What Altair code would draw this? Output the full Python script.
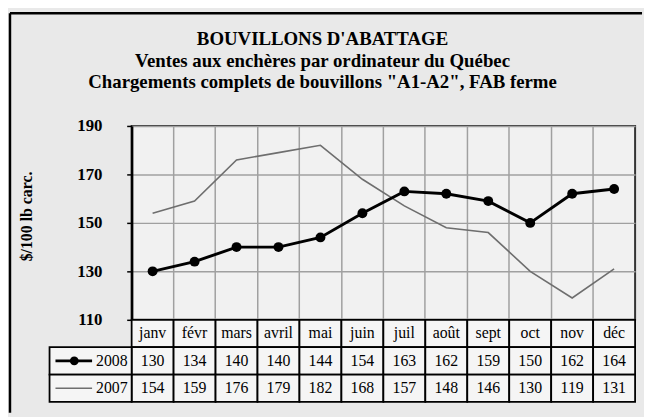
import altair as alt
import pandas as pd

months = ["janv", "févr", "mars", "avril", "mai", "juin", "juil", "août", "sept", "oct", "nov", "déc"]
v2008 = [130, 134, 140, 140, 144, 154, 163, 162, 159, 150, 162, 164]
v2007 = [154, 159, 176, 179, 182, 168, 157, 148, 146, 130, 119, 131]
years = ["2008", "2007"]
y_ticks = [110, 130, 150, 170, 190]
title_lines = [
    "BOUVILLONS D'ABATTAGE",
    "Ventes aux enchères par ordinateur du Québec",
    'Chargements complets de bouvillons "A1-A2", FAB ferme',
]
y_title = "$/100 lb carc."

W, H = 509, 196
TABLE_H = 83
rows = ["mois"] + years
SERIF = "Liberation Serif"

lines_df = pd.DataFrame({
    "mois": months * 2,
    "valeur": v2008 + v2007,
    "annee": ["2008"] * 12 + ["2007"] * 12,
})
table_df = pd.DataFrame({
    "mois": months * 3,
    "row": ["mois"] * 12 + ["2008"] * 12 + ["2007"] * 12,
    "txt": months + [str(v) for v in v2008] + [str(v) for v in v2007],
})
legend_df = pd.DataFrame({"row": years, "txt": years})
one_df = pd.DataFrame({"k": [0]})

xscale = alt.Scale(type="band", domain=months, paddingInner=0, paddingOuter=0)
rowscale = alt.Scale(type="band", domain=rows, range=[H, H + TABLE_H], paddingInner=0, paddingOuter=0)

x_main = alt.X("mois:N", scale=xscale, sort=months,
               axis=alt.Axis(title=None, labels=False, ticks=False, domain=False,
                             grid=True, bandPosition=0, gridColor="#a0a0a0", gridWidth=1.5))
x_plain = alt.X("mois:N", scale=xscale, sort=months)
y_row = alt.Y("row:N", scale=rowscale, axis=None)

base = alt.Chart(lines_df)

line07 = base.transform_filter(alt.datum.annee == "2007").mark_line(
    color="#6e6e6e", strokeWidth=1.6
).encode(
    x=x_main,
    y=alt.Y("valeur:Q", scale=alt.Scale(domain=[110, 190]),
            axis=alt.Axis(values=y_ticks, title=y_title, grid=True, gridColor="#a0a0a0",
                          gridWidth=1.5, domainColor="black", domainWidth=2.5,
                          tickColor="black", tickSize=5, tickWidth=1.5,
                          labelFont=SERIF, labelFontSize=17, labelFontWeight="bold",
                          labelColor="black", labelPadding=25,
                          titleFont=SERIF, titleFontSize=16, titleFontWeight="bold",
                          titleColor="black", titleX=-98, titleY=91)),
)
line08 = base.transform_filter(alt.datum.annee == "2008").mark_line(
    color="black", strokeWidth=3,
    point=alt.OverlayMarkDef(filled=True, size=100, color="black", opacity=1),
).encode(x=x_plain, y=alt.Y("valeur:Q"))

lines = alt.layer(line07, line08)

cells = alt.Chart(table_df).mark_rect(fill="#f5f5f5", stroke="black", strokeWidth=1.8).encode(
    x=x_plain, y=y_row)
cell_txt = alt.Chart(table_df).mark_text(font=SERIF, fontSize=16, color="black").encode(
    x=x_plain, y=y_row, text="txt:N")

leg_cells = alt.Chart(legend_df).mark_rect(fill="#f5f5f5", stroke="black", strokeWidth=1.8).encode(
    x=alt.value(-83), x2=alt.value(0), y=y_row)
leg_rule08 = alt.Chart(legend_df[legend_df.row == "2008"]).mark_rule(color="black", strokeWidth=3).encode(
    x=alt.value(-77), x2=alt.value(-40), y=y_row)
leg_rule07 = alt.Chart(legend_df[legend_df.row == "2007"]).mark_rule(color="#6e6e6e", strokeWidth=1.6).encode(
    x=alt.value(-77), x2=alt.value(-40), y=y_row)
leg_pt = alt.Chart(legend_df[legend_df.row == "2008"]).mark_point(
    filled=True, size=80, color="black", opacity=1).encode(x=alt.value(-58), y=y_row)
leg_txt = alt.Chart(legend_df).mark_text(font=SERIF, fontSize=16, color="black", align="right").encode(
    x=alt.value(-4), y=y_row, text="txt:N")

title_marks = [
    alt.Chart(one_df).mark_text(
        text=t, font=SERIF, fontSize=19, fontWeight="bold", color="black",
        align="center", baseline="alphabetic",
    ).encode(x=alt.value(193), y=alt.value(yy))
    for t, yy in zip(title_lines, [-82, -60, -38])
]

frame_top = alt.Chart(one_df).mark_rule(color="black", strokeWidth=2.5).encode(
    x=alt.value(-123), x2=alt.value(516), y=alt.value(-114))
frame_left = alt.Chart(one_df).mark_rule(color="black", strokeWidth=2.5).encode(
    x=alt.value(-123), y=alt.value(-114), y2=alt.value(290))

chart = alt.layer(
    lines, cells, cell_txt, leg_cells, leg_rule08, leg_rule07, leg_pt, leg_txt,
    *title_marks, frame_top, frame_left,
).resolve_scale(y="independent").properties(
    width=W, height=H, padding={"left": 0, "top": 1, "right": 0, "bottom": 0},
).configure(background="#e9e9e9").configure_view(
    fill="#f1f1f1", stroke="#333333", strokeWidth=2
)

chart.save("out.html", embed_options={"renderer": "svg", "actions": False})
